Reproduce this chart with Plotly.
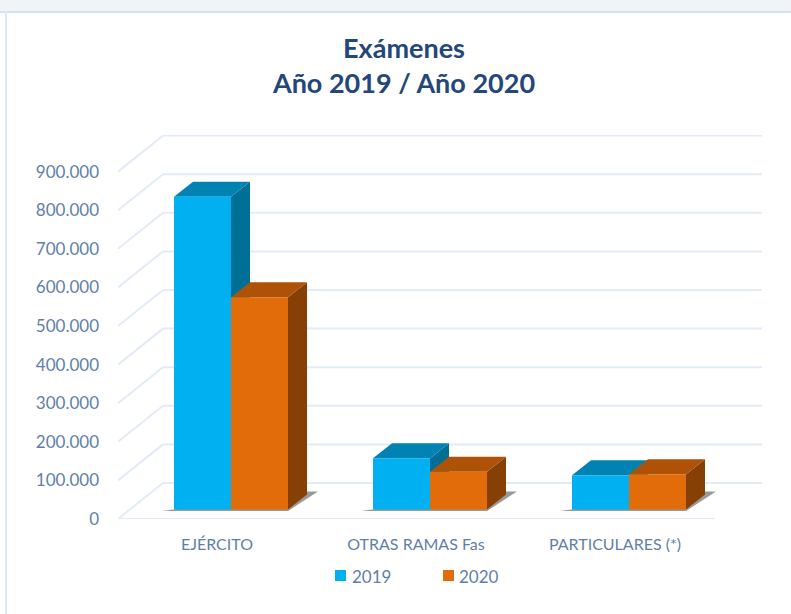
import plotly.graph_objects as go

# ---- data ----
categories = ["EJÉRCITO", "OTRAS RAMAS Fas", "PARTICULARES (*)"]
values_2019 = [810000, 133000, 89000]
values_2020 = [550000, 98000, 91000]
y_ticks = [0, 100000, 200000, 300000, 400000, 500000, 600000, 700000, 800000, 900000]

# ---- geometry / styling ----
W, H = 791, 614
L, R, T, B = 118, 762, 135, 519        # plot area in pixels
PX_PER_VALUE = 38.6 / 100000
PX_PER_CAT = 199
CAT0_PX = 217
FONT = "Lato"
TEXT = "#5F7FA8"
TITLE = "#24477A"
GRID = "#E3EBF8"
C19 = dict(front="#00B0F0", top="#0083B2", side="#006F98")
C20 = dict(front="#E36C0A", top="#AE5207", side="#864005")

vy = lambda px: px / PX_PER_VALUE      # vertical pixels -> value units
cx = lambda px: px / PX_PER_CAT        # horizontal pixels -> category units

xrange_ = [(L - CAT0_PX) / PX_PER_CAT, (R - CAT0_PX) / PX_PER_CAT]
yrange_ = [0, vy(B - T)]

BAR_W = cx(57)
OFF19, OFF20 = cx(-43), cx(14)
BASE = vy(9.5)                          # bars stand part-way back on the floor
DX, DY = cx(19), vy(15)                 # bar depth
WALL_DX, WALL_DY = cx(45), vy(36)       # chart depth

shapes = []


def poly(pts, color):
    d = "M" + " L".join(f"{x},{y}" for x, y in pts) + " Z"
    return dict(type="path", path=d, xref="x", yref="y", fillcolor=color,
                line=dict(width=0), layer="below")


def seg(x0, y0, x1, y1, color=GRID, width=2):
    return dict(type="line", x0=x0, y0=y0, x1=x1, y1=y1, xref="x", yref="y",
                line=dict(color=color, width=width), layer="below")


def paper_rect(x0, y0, x1, y1, color):
    return dict(type="rect", xref="paper", yref="paper",
                x0=(x0 - L) / (R - L), x1=(x1 - L) / (R - L),
                y0=(B - y0) / (B - T), y1=(B - y1) / (B - T),
                fillcolor=color, line=dict(width=0), layer="below")


# page strip and frame
shapes.append(paper_rect(0, 0, W, 11, "#F0F4F7"))
shapes.append(paper_rect(0, 11, W, 13, "#D3E2F4"))
shapes.append(paper_rect(5, 11, 7, H, "#DCE8F7"))

# gridlines: walls and floor
x_left, x_right = xrange_
for t in y_ticks:
    shapes.append(seg(x_left, t, x_left + WALL_DX, t + WALL_DY))
    shapes.append(seg(x_left + WALL_DX, t + WALL_DY, x_right, t + WALL_DY))
shapes.append(seg(x_left, 0, x_left + 3.0, 0))

# floor shadows, then side and top faces, back-most series first
for i in range(len(categories)):
    lft, rgt = i + OFF19, i + OFF20 + BAR_W
    shapes.append(poly([(lft - cx(12), BASE - vy(1.5)), (rgt, BASE - vy(1.5)),
                        (rgt + cx(30), BASE + vy(18)), (rgt + cx(19), BASE + vy(18))],
                       "rgba(110,110,110,0.7)"))

for vals, off, col in [(values_2019, OFF19, C19), (values_2020, OFF20, C20)]:
    for i, v in enumerate(vals):
        x0, x1 = i + off, i + off + BAR_W
        top = BASE + v
        shapes.append(poly([(x1, BASE), (x1 + DX, BASE + DY), (x1 + DX, top + DY), (x1, top)], col["side"]))
        shapes.append(poly([(x0, top), (x1, top), (x1 + DX, top + DY), (x0 + DX, top + DY)], col["top"]))

fig = go.Figure()
for name, vals, off, col in [("2019", values_2019, OFF19, C19), ("2020", values_2020, OFF20, C20)]:
    fig.add_trace(go.Bar(
        name=name, x=list(range(len(categories))), y=vals, base=BASE,
        width=BAR_W, offset=off, marker=dict(color=col["front"], line=dict(width=0)),
        showlegend=False,
    ))

# legend keys and labels
annotations = []
for name, col, sx0, tx in [("2019", C19, 335, 350), ("2020", C20, 443, 457)]:
    shapes.append(paper_rect(sx0, 570, sx0 + 11, 581, col["front"]))
    annotations.append(dict(text=name, xref="paper", yref="paper",
                            x=(tx - L) / (R - L), y=(B - 576) / (B - T),
                            xanchor="left", yanchor="middle", showarrow=False,
                            font=dict(family=FONT, size=17, color=TEXT)))

fig.update_layout(
    width=W, height=H, margin=dict(l=L, r=W - R, t=T, b=H - B, pad=0),
    paper_bgcolor="white", plot_bgcolor="rgba(0,0,0,0)",
    separators=",.", barmode="overlay", showlegend=False,
    font=dict(family=FONT, color=TEXT, size=15),
    title=dict(text="Exámenes<br>Año 2019 / Año 2020", x=404 / W, xanchor="center",
               y=1 - 58 / H, yanchor="middle",
               font=dict(family=FONT, size=27, color=TITLE, weight="bold")),
    xaxis=dict(range=xrange_, tickmode="array", tickvals=list(range(len(categories))),
               ticktext=categories, showgrid=False, zeroline=False, showline=False,
               ticks="", ticklabelstandoff=14, tickfont=dict(size=16, color=TEXT, family=FONT)),
    yaxis=dict(range=yrange_, tickmode="array", tickvals=y_ticks, tickformat=",d",
               showgrid=False, zeroline=False, showline=False, ticks="",
               ticklabelstandoff=18, tickfont=dict(size=17, color=TEXT, family=FONT)),
    shapes=shapes, annotations=annotations,
)

fig.write_html("out.html", config={"displayModeBar": False},
               post_script="document.body.style.margin='0';")
